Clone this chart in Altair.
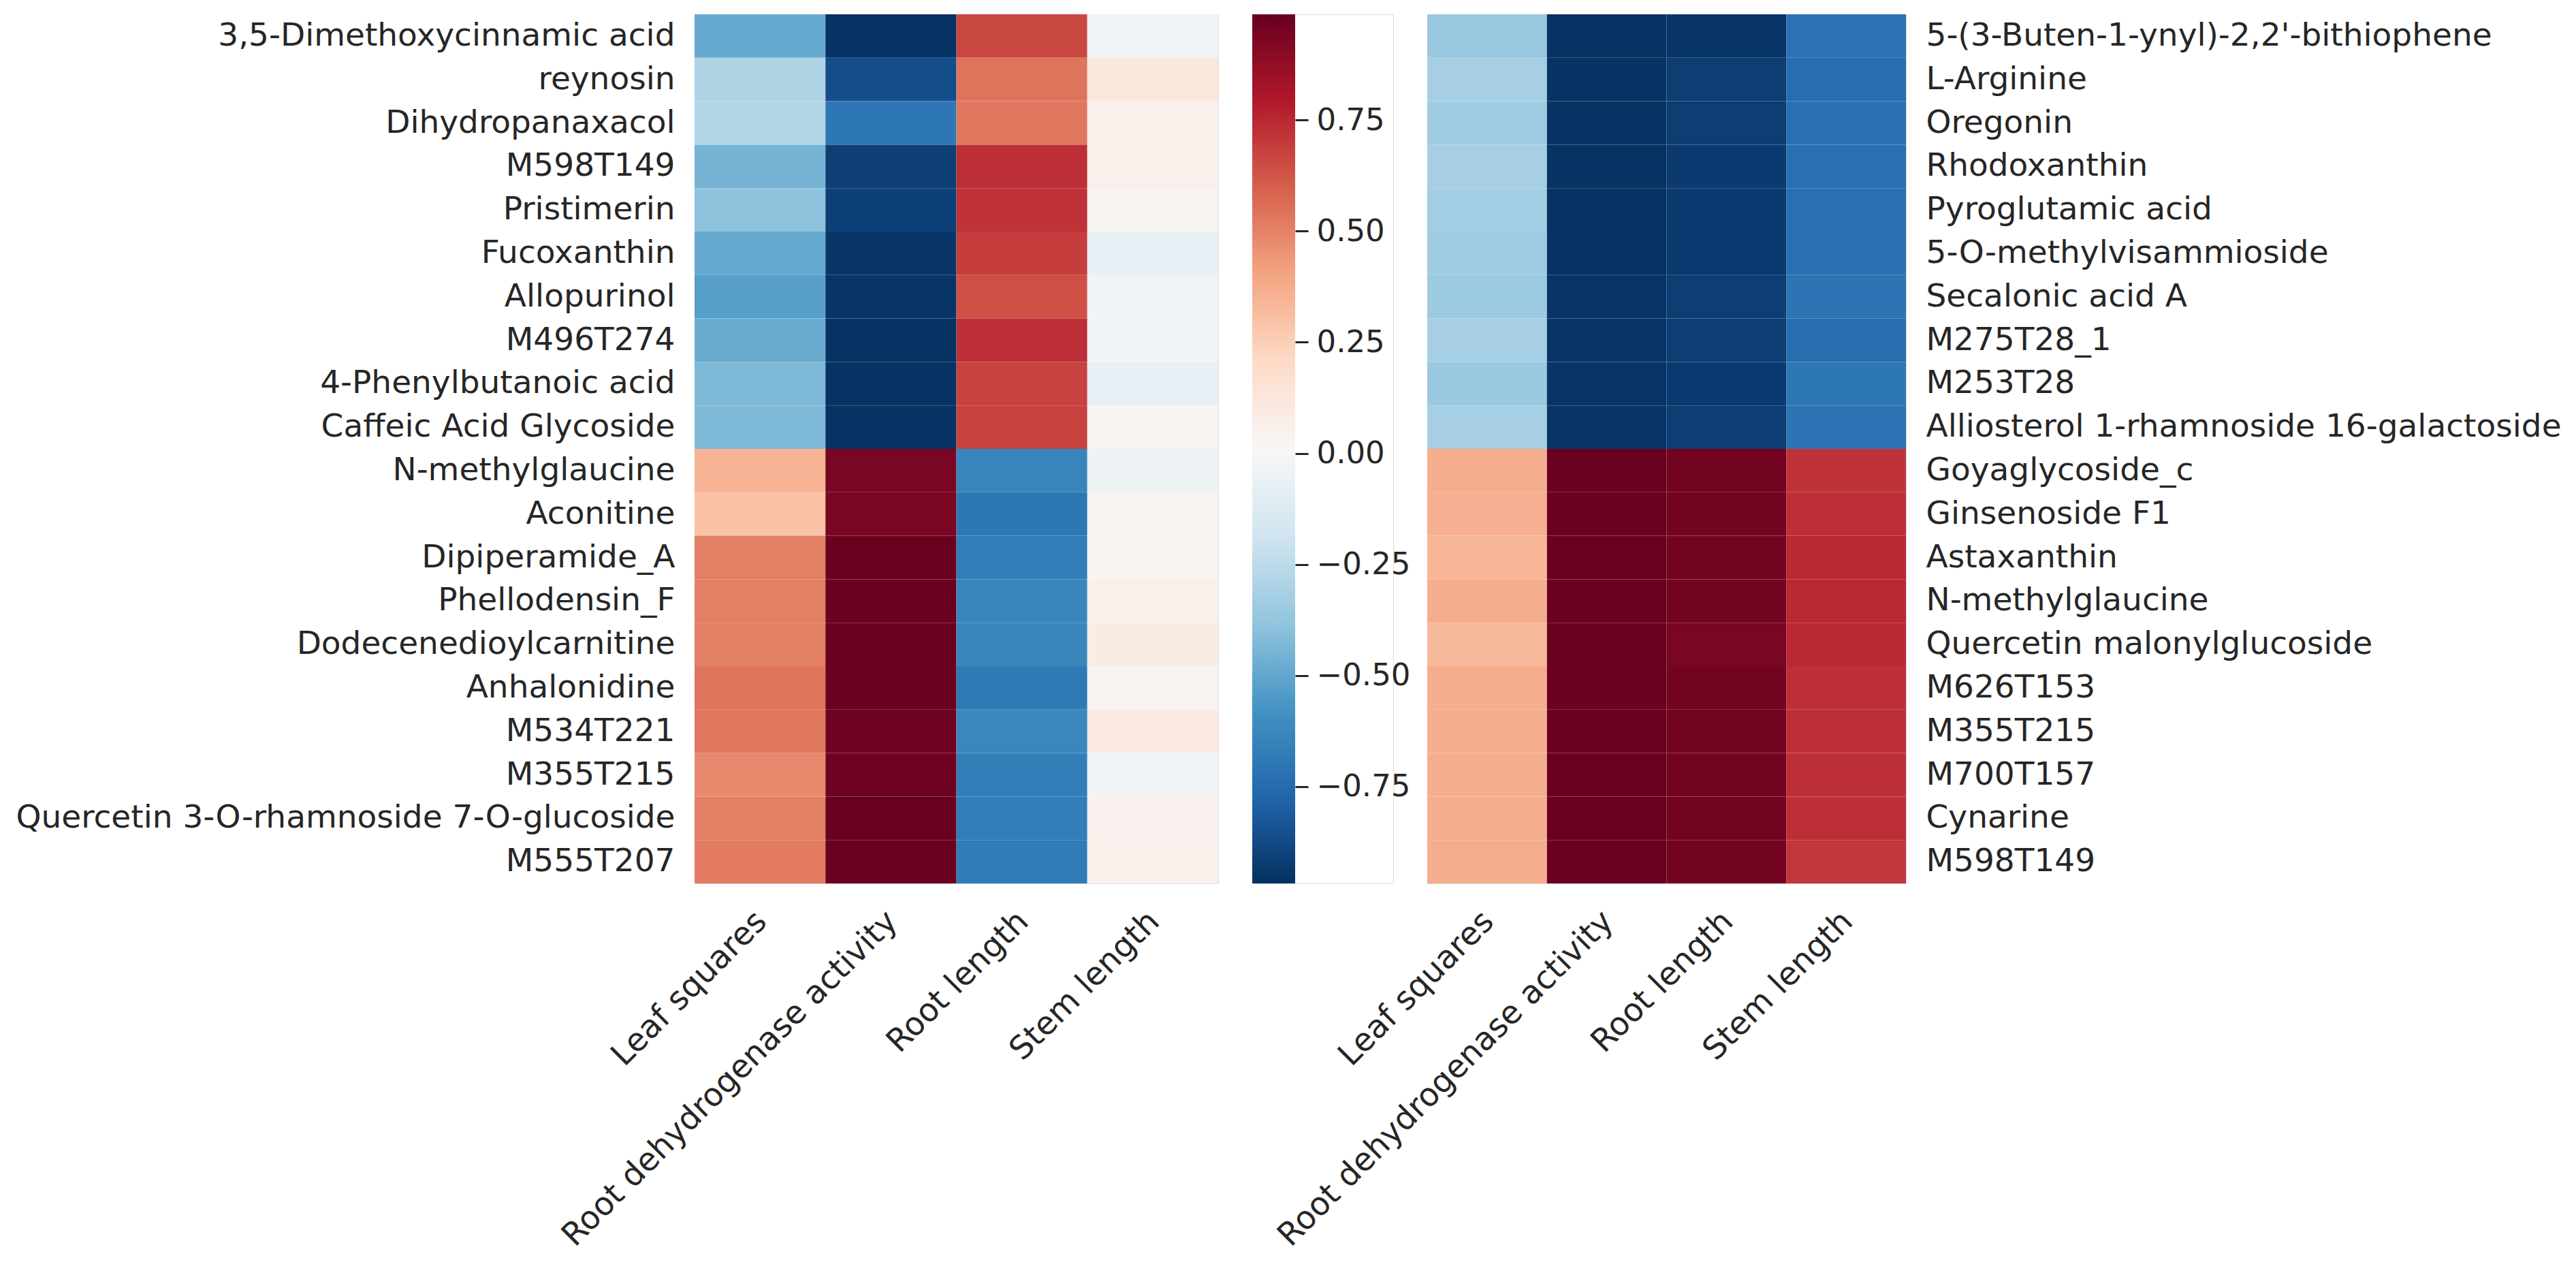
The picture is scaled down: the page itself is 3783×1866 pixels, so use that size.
import altair as alt
import pandas as pd

# ---------------- data ----------------
columns = ["Leaf squares", "Root dehydrogenase activity", "Root length", "Stem length"]

left_rows = [
    "3,5-Dimethoxycinnamic acid", "reynosin", "Dihydropanaxacol", "M598T149", "Pristimerin",
    "Fucoxanthin", "Allopurinol", "M496T274", "4-Phenylbutanoic acid", "Caffeic Acid Glycoside",
    "N-methylglaucine", "Aconitine", "Dipiperamide_A", "Phellodensin_F", "Dodecenedioylcarnitine",
    "Anhalonidine", "M534T221", "M355T215", "Quercetin 3-O-rhamnoside 7-O-glucoside", "M555T207",
]
left_leaf = [-0.49, -0.29, -0.28, -0.45, -0.39, -0.49, -0.53, -0.48, -0.43, -0.43,
             0.35, 0.30, 0.51, 0.51, 0.51, 0.54, 0.53, 0.48, 0.51, 0.52]
left_rda = [-0.96, -0.86, -0.70, -0.915, -0.91, -0.95, -0.95, -0.96, -0.96, -0.96,
            0.94, 0.94, 0.98, 0.98, 0.98, 0.98, 0.97, 0.97, 0.98, 0.98]
left_rl = [0.665, 0.54, 0.53, 0.73, 0.72, 0.69, 0.64, 0.73, 0.68, 0.68,
           -0.64, -0.70, -0.67, -0.635, -0.635, -0.69, -0.63, -0.67, -0.67, -0.68]
left_stem = [-0.02, 0.12, 0.06, 0.06, 0.04, -0.07, -0.02, -0.02, -0.07, 0.03,
             -0.04, 0.03, 0.03, 0.06, 0.09, 0.04, 0.10, -0.02, 0.05, 0.06]

right_rows = [
    "5-(3-Buten-1-ynyl)-2,2'-bithiophene", "L-Arginine", "Oregonin", "Rhodoxanthin", "Pyroglutamic acid",
    "5-O-methylvisammioside", "Secalonic acid A", "M275T28_1", "M253T28", "Alliosterol 1-rhamnoside 16-galactoside",
    "Goyaglycoside_c", "Ginsenoside F1", "Astaxanthin", "N-methylglaucine", "Quercetin malonylglucoside",
    "M626T153", "M355T215", "M700T157", "Cynarine", "M598T149",
]
right_leaf = [-0.36, -0.32, -0.34, -0.32, -0.33, -0.34, -0.35, -0.32, -0.36, -0.32,
              0.37, 0.36, 0.34, 0.37, 0.33, 0.37, 0.37, 0.37, 0.37, 0.37]
right_rda = [-0.96, -0.96, -0.96, -0.96, -0.96, -0.96, -0.95, -0.95, -0.95, -0.95,
             0.98, 0.98, 0.98, 0.98, 0.98, 0.98, 0.98, 0.98, 0.98, 0.98]
right_rl = [-0.95, -0.92, -0.92, -0.93, -0.93, -0.93, -0.92, -0.92, -0.93, -0.92,
            0.957, 0.957, 0.957, 0.957, 0.94, 0.957, 0.957, 0.957, 0.957, 0.957]
right_stem = [-0.715, -0.74, -0.73, -0.73, -0.73, -0.73, -0.71, -0.74, -0.70, -0.71,
              0.72, 0.73, 0.75, 0.75, 0.75, 0.73, 0.73, 0.73, 0.73, 0.71]

VMIN, VMAX = -0.968, 0.988
cbar_ticks = [-0.75, -0.5, -0.25, 0.0, 0.25, 0.5, 0.75]

# RdBu_r colour map (ColorBrewer 11 class)
RDBU_R = ["#053061", "#2166ac", "#4393c3", "#92c5de", "#d1e5f0", "#f7f7f7",
          "#fddbc7", "#f4a582", "#d6604d", "#b2182b", "#67001f"]


def long_table(rows, cols_vals):
    recs = []
    for ci, col in enumerate(columns):
        for ri, r in enumerate(rows):
            recs.append({"row": r, "col": col, "value": cols_vals[ci][ri]})
    return pd.DataFrame(recs)


left_df = long_table(left_rows, [left_leaf, left_rda, left_rl, left_stem])
right_df = long_table(right_rows, [right_leaf, right_rda, right_rl, right_stem])

FONT = "DejaVu Sans"
TXT = "#262626"
FS = 47
PLOT_H = 1276
CB_W = 63          # colour bar thickness
CB_VIEW_W = 207    # colour bar + room for its labels

color_domain = [VMIN + i * (VMAX - VMIN) / 10 for i in range(11)]
color_scale = alt.Scale(domain=color_domain, range=RDBU_R, interpolate="rgb", clamp=True)

x_axis = alt.Axis(title=None, labelAngle=-45, labelAlign="right", labelBaseline="top",
                  ticks=False, domain=False, labelPadding=32, labelOffset=-14,
                  labelFontSize=FS, labelFont=FONT, labelColor=TXT, labelLimit=0)


def heat(df, rows, orient, width):
    return alt.Chart(df).mark_rect(strokeWidth=0).encode(
        x=alt.X("col:N", sort=columns, scale=alt.Scale(paddingInner=0, paddingOuter=0), axis=x_axis),
        y=alt.Y("row:N", sort=rows, scale=alt.Scale(paddingInner=0, paddingOuter=0),
                axis=alt.Axis(title=None, orient=orient, ticks=False, domain=False, labelPadding=29,
                              labelFontSize=FS, labelFont=FONT, labelColor=TXT, labelLimit=0)),
        color=alt.Color("value:Q", scale=color_scale, legend=None),
    ).properties(width=width, height=PLOT_H)


left = heat(left_df, left_rows, "left", 769)
right = heat(right_df, right_rows, "right", 703)

cbar_df = pd.DataFrame({"lo": [VMIN], "hi": [VMAX]})
gradient = {
    "gradient": "linear", "x1": 0, "y1": 1, "x2": 0, "y2": 0,
    "stops": [{"offset": i / 10, "color": c} for i, c in enumerate(RDBU_R)],
}
cbar = alt.Chart(cbar_df).mark_rect(fill=gradient, strokeWidth=0).encode(
    x=alt.value(0), x2=alt.value(CB_W),
    y=alt.Y("lo:Q", scale=alt.Scale(domain=[VMIN, VMAX], nice=False, zero=False),
            axis=alt.Axis(title=None, orient="right", offset=CB_W - CB_VIEW_W,
                          values=cbar_ticks, format=".2f",
                          domain=False, grid=False, tickSize=19, tickWidth=3, tickColor=TXT,
                          labelPadding=12, labelFontSize=45, labelFont=FONT, labelColor=TXT)),
    y2="hi:Q",
).properties(width=CB_VIEW_W, height=PLOT_H)

chart = alt.hconcat(
    left, cbar, right,
    spacing=50,
    bounds="flush",
).properties(
    padding={"left": 14, "top": 12, "right": 2, "bottom": 2}
).configure_view(strokeWidth=0).configure(background="white")

chart.save("out.html", embed_options={"renderer": "svg", "actions": False})
